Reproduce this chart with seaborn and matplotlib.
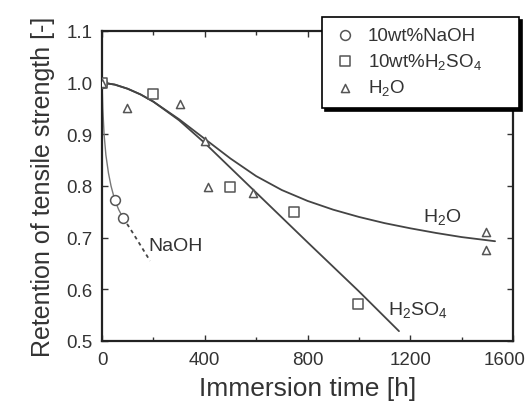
import matplotlib
matplotlib.use("Agg")
import matplotlib.pyplot as plt
import seaborn as sns
from matplotlib.ticker import MultipleLocator

# measured points
naoh_t = [0, 50, 82]
naoh_r = [1.0, 0.772, 0.738]
h2so4_t = [0, 199, 498, 747, 995]
h2so4_r = [1.0, 0.977, 0.797, 0.750, 0.572]
h2o_t = [0, 97, 304, 401, 413, 588, 1495, 1495]
h2o_r = [1.0, 0.951, 0.959, 0.887, 0.797, 0.787, 0.710, 0.676]

# fitted curves
naoh_fit_t = [0, 3, 8, 15, 25, 35, 50, 65, 82]
naoh_fit_r = [1.0, 0.95, 0.90, 0.86, 0.825, 0.80, 0.772, 0.754, 0.738]
naoh_ext_t = [82, 110, 140, 187]
naoh_ext_r = [0.738, 0.717, 0.693, 0.655]
h2so4_fit_t = [0, 50, 100, 150, 200, 300, 400, 600, 800, 1000, 1156]
h2so4_fit_r = [1.0, 0.996, 0.988, 0.977, 0.963, 0.927, 0.883, 0.787, 0.691, 0.596, 0.519]
h2o_fit_t = [0, 50, 100, 150, 200, 300, 400, 500, 600, 700, 800, 900, 1000, 1100, 1200,
             1300, 1400, 1530]
h2o_fit_r = [1.0, 0.996, 0.988, 0.977, 0.963, 0.929, 0.891, 0.853, 0.819, 0.792, 0.771,
             0.754, 0.740, 0.728, 0.718, 0.709, 0.701, 0.693]

x_ticks = [0, 400, 800, 1200, 1600]
y_ticks = [0.5, 0.6, 0.7, 0.8, 0.9, 1.0, 1.1]

sns.set_style("ticks")
plt.rcParams["font.family"] = ["Liberation Sans", "DejaVu Sans"]
plt.rcParams["mathtext.default"] = "regular"

fig = plt.figure(figsize=(5.3, 4.14), dpi=100)
ax = fig.add_axes([0.1925, 0.174, 0.7755, 0.749])

line_kw = dict(color="#444444", linewidth=1.3, ax=ax, legend=False)
sns.lineplot(x=naoh_fit_t, y=naoh_fit_r, sort=False, color="#777777", linewidth=1.0,
             ax=ax, legend=False)
sns.lineplot(x=naoh_ext_t, y=naoh_ext_r, sort=False, linestyle=(0, (2, 2)), **line_kw)
sns.lineplot(x=h2so4_fit_t, y=h2so4_fit_r, sort=False, **line_kw)
sns.lineplot(x=h2o_fit_t, y=h2o_fit_r, sort=False, **line_kw)

mk = dict(facecolor="white", edgecolor="#555555", linewidth=1.1, ax=ax, zorder=5)
sns.scatterplot(x=naoh_t, y=naoh_r, marker="o", s=50, label="10wt%NaOH", **mk)
sns.scatterplot(x=h2so4_t, y=h2so4_r, marker="s", s=42, label="10wt%H$_2$SO$_4$", **mk)
sns.scatterplot(x=h2o_t, y=h2o_r, marker="^", s=34, label="H$_2$O", **mk)

txt = dict(fontsize=14, color="#333333", va="center", ha="left")
ax.text(179, 0.684, "NaOH", **txt)
ax.text(1250, 0.742, "H$_2$O", **txt)
ax.text(1113, 0.562, "H$_2$SO$_4$", **txt)

ax.set_xlim(0, 1600)
ax.set_ylim(0.5, 1.1)
# last x label drawn separately so it stays inside the figure
ax.set_xticks(x_ticks, [str(v) for v in x_ticks[:-1]] + [""])
ax.xaxis.set_minor_locator(MultipleLocator(200))
ax.set_yticks(y_ticks, [f"{v:.1f}" for v in y_ticks])
ax.tick_params(which="both", direction="in", top=True, right=True, colors="#333333",
               labelsize=13.5, pad=7, width=1.0, length=4)
ax.tick_params(which="minor", length=3)
for s in ax.spines.values():
    s.set_linewidth(1.6)
    s.set_color("#222222")
ax.annotate(str(x_ticks[-1]), xy=(x_ticks[-1], 0), xycoords=("data", "axes fraction"),
            xytext=(-6, -7), textcoords="offset points", ha="center", va="top",
            fontsize=13.5, color="#333333")

ax.set_xlabel("Immersion time [h]", fontsize=19, color="#333333", labelpad=6)
ax.set_ylabel("Retention of tensile strength [-]", fontsize=18, color="#333333", labelpad=8)

leg = ax.legend(loc="upper left", bbox_to_anchor=(0.535, 0.755, 0.48, 0.29), mode="expand",
                borderaxespad=0, fontsize=13.5, frameon=True, fancybox=False,
                edgecolor="black", framealpha=1, shadow={"color": "black", "alpha": 1},
                handletextpad=0.5, labelspacing=0.35, borderpad=0.55, handlelength=1.4)
leg.get_frame().set_linewidth(1.2)
for t in leg.get_texts():
    t.set_color("#333333")

fig.savefig("out.png", dpi=100)
